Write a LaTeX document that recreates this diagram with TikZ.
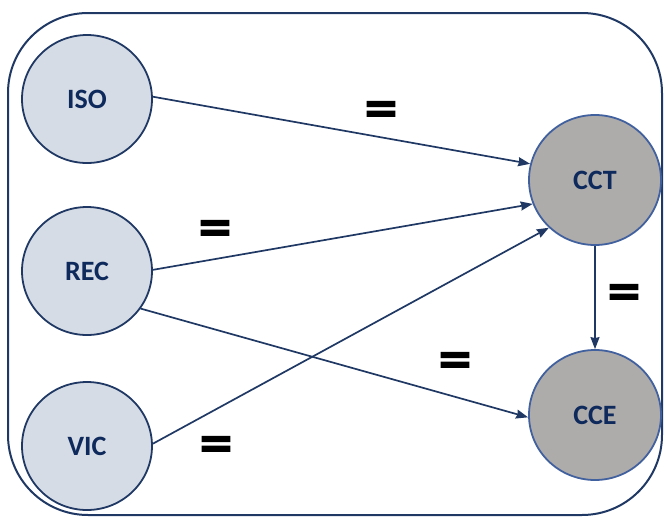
\documentclass[tikz,border=0pt]{standalone}
\usepackage{fontspec}
\setmainfont{Carlito}
\newfontface\eqface[FakeBold=2.5]{DejaVu Sans Bold}
\usetikzlibrary{arrows.meta,shapes.geometric}
\definecolor{navy}{HTML}{1F3864}
\definecolor{ink}{HTML}{0E2A5C}
\definecolor{paleblue}{HTML}{D6DCE5}
\definecolor{stone}{HTML}{AEABAB}
\definecolor{rim}{HTML}{41609E}
\tikzset{
  cause/.style={ellipse, draw=navy, line width=1.8pt, fill=paleblue,
    minimum width=130pt, minimum height=128pt, inner sep=0pt,
    font=\fontsize{28}{30}\selectfont\bfseries, text=ink},
  effect/.style={ellipse, draw=rim, line width=1.8pt, fill=stone,
    minimum width=132pt, minimum height=130pt, inner sep=0pt,
    font=\fontsize{28}{30}\selectfont\bfseries, text=ink},
  link/.style={draw=navy, line width=1.7pt,
    -{Stealth[length=12pt,width=9pt,inset=1pt]}},
  eq/.style={font=\eqface\fontsize{44}{46}\selectfont, text=black, inner sep=0pt}
}
\begin{document}
\begin{tikzpicture}[x=1pt,y=-1pt]
  \useasboundingbox (0,0) rectangle (665,517);
  % surrounding frame
  \draw[navy, line width=2pt, rounded corners=80pt] (8,13) rectangle (662,515);

  % nodes
  \node[cause]  (iso) at (87,99)  {ISO};
  \node[cause]  (rec) at (87,271) {REC};
  \node[cause]  (vic) at (87,446) {VIC};
  \node[effect] (cct) at (595,180) {CCT};
  \node[effect] (cce) at (595,415) {CCE};

  % connectors
  \draw[link] (iso.2)   -- (cct.166);
  \draw[link] (rec.1)   -- (cct.201);
  \draw[link] (vic.2)   -- (cct.226);
  \draw[link] (rec.325) -- (cce.182);
  \draw[link] (cct.south) -- (cce.north);

  % equality marks
  \node[eq] (e1) at (381,112) {=};
  \node[eq] (e2) at (215,231) {=};
  \node[eq] (e3) at (624,295) {=};
  \node[eq] (e4) at (455,363) {=};
  \node[eq] (e5) at (216,447) {=};
\end{tikzpicture}
\end{document}
